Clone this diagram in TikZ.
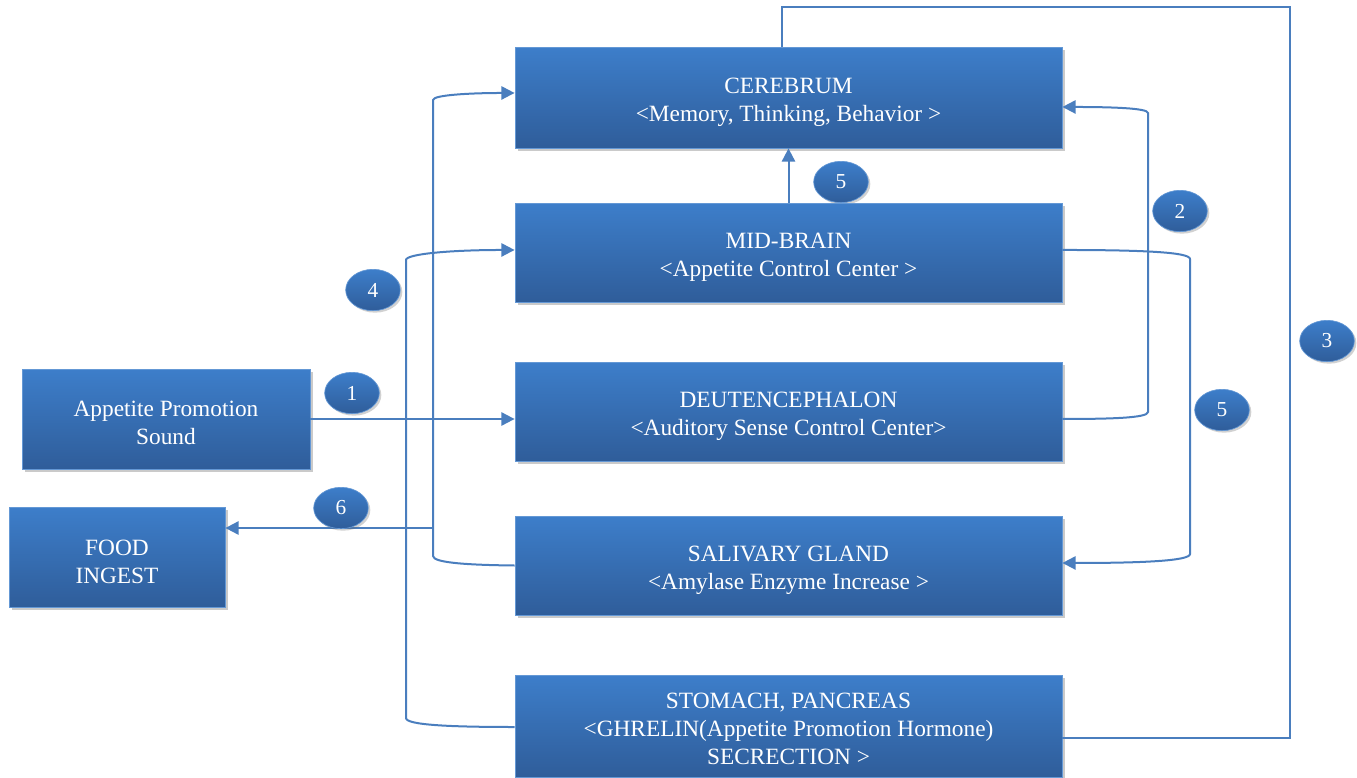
\documentclass[tikz,border=0pt]{standalone}
\usepackage{fontspec}
\setmainfont{Liberation Serif}
\usetikzlibrary{arrows.meta,shadows,shapes.geometric}
\definecolor{boxtop}{RGB}{61,126,202}
\definecolor{boxbot}{RGB}{47,93,154}
\definecolor{linec}{RGB}{74,126,190}
\tikzset{
  blk/.style={draw=boxtop!80!white, line width=0.6pt, top color=boxtop, bottom color=boxbot,
    inner sep=0pt,
    drop shadow={shadow xshift=2pt, shadow yshift=-2pt, opacity=0.35, fill=black!60}},
  lbl/.style={text=white, align=center, inner sep=0pt, font=\fontsize{17.5}{21}\selectfont, yshift=-3.75pt},
  badge/.style={ellipse, draw=boxtop!80!white, line width=0.5pt, top color=boxtop, bottom color=boxbot,
    text=white, inner sep=0pt, minimum width=41pt, minimum height=31pt,
    font=\fontsize{16}{18}\selectfont,
    drop shadow={shadow xshift=1.5pt, shadow yshift=-1.5pt, opacity=0.3, fill=black!60}},
  conn/.style={draw=linec, line width=1.5pt},
  arr/.style={conn, -{Triangle[length=10pt,width=10pt]}}
}
\begin{document}
\begin{tikzpicture}[x=0.75pt,y=-0.75pt]
\useasboundingbox (0,0) rectangle (1357,778);
% badge hidden partly behind mid-brain
\node[badge] (b5m) at (841,182) {5};
% boxes
\node[blk, minimum width=410.25pt, minimum height=75.75pt,
  label={[lbl]center:CEREBRUM\\{<}Memory, Thinking, Behavior{ >}}] (cer) at (788.5,97.5) {};
\node[blk, minimum width=410.25pt, minimum height=74.25pt,
  label={[lbl]center:MID-BRAIN\\{<}Appetite Control Center{ >}}] (mid) at (788.5,252.5) {};
\node[blk, minimum width=410.25pt, minimum height=74.25pt,
  label={[lbl]center:DEUTENCEPHALON\\{<}Auditory Sense Control Center{>}}] (deu) at (788.5,411.5) {};
\node[blk, minimum width=410.25pt, minimum height=74.25pt,
  label={[lbl]center:SALIVARY GLAND\\{<}Amylase Enzyme Increase{ >}}] (sal) at (788.5,565.5) {};
\node[blk, minimum width=410.25pt, minimum height=76.5pt,
  label={[lbl,yshift=1.9pt]center:STOMACH, PANCREAS\\{<}GHRELIN(Appetite Promotion Hormone)\\SECRECTION{ >}}] (sto) at (788.5,726) {};
\node[blk, minimum width=216pt, minimum height=75pt,
  label={[lbl,yshift=1pt]center:Appetite Promotion\\Sound}] (snd) at (166,419) {};
\node[blk, minimum width=162pt, minimum height=75pt,
  label={[lbl]center:FOOD\\INGEST}] (food) at (117,557) {};
% helper coordinates
\coordinate (j6) at (433,528);
\coordinate (t3a) at (1290,7);
\coordinate (t3b) at (782,7);
% connectors
\draw[arr] (snd.east) -- (deu.west |- snd.east);
\draw[arr] (j6) -- (food.east |- j6);
\draw[arr] (sal.west) .. controls (470,565) and (433,563) .. (433,556) -- (433,100)
   .. controls (433,95) and (470,93) .. ([yshift=3.4pt]cer.west);
\draw[arr] ([yshift=-0.75pt]sto.west) .. controls (450,727) and (406,725) .. (406,718) -- (406,260)
   .. controls (406,254) and (450,250) .. ([yshift=1.9pt]mid.west);
\draw[arr] ([yshift=-5.6pt]deu.east) .. controls (1110,419) and (1148,418) .. (1148,412) -- (1148,113)
   .. controls (1148,108) and (1110,107) .. ([yshift=-7.1pt]cer.east);
\draw[arr] ([yshift=1.9pt]mid.east) .. controls (1140,250) and (1190,252) .. (1190,259) -- (1190,554)
   .. controls (1190,561) and (1140,563) .. ([yshift=1.9pt]sal.east);
\draw[conn] ([yshift=-9pt]sto.east) -- (t3a |- 0,738) -- (t3a) -- (t3b) -- (t3b |- cer.north);
\draw[arr] (mid.north) -- (cer.south);
% badges
\node[badge] (b1) at (352,393) {1};
\node[badge] (b6) at (341,508) {6};
\node[badge] (b4) at (373,290) {4};
\node[badge] (b2) at (1180,211) {2};
\node[badge] (b5r) at (1222,410) {5};
\node[badge] (b3) at (1327,341) {3};
\end{tikzpicture}
\end{document}
